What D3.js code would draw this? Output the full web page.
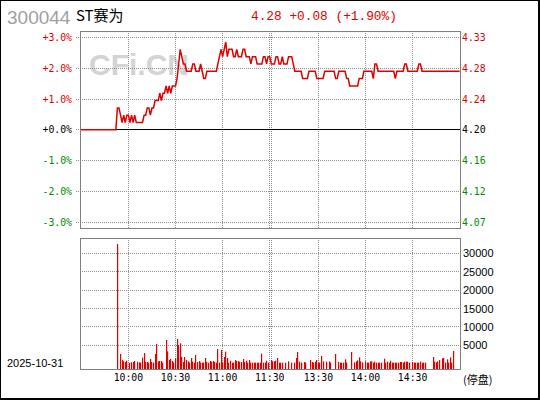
<!DOCTYPE html>
<html><head><meta charset="utf-8">
<script src="https://cdn.jsdelivr.net/npm/d3@7/dist/d3.min.js"></script>
<style>html,body{margin:0;padding:0;background:#fff;} svg{display:block;}</style>
</head><body>
<svg id="c" width="540" height="400"></svg>
<script>
// ---------- data ----------
const stockCode = "300044";
const stockName = "ST赛为";
const headerText = "4.28 +0.08 (+1.90%)";
const prevClose = 4.20;
const dateLabel = "2025-10-31";
const suspendLabel = "(停盘)";
const watermark = "CFi.CN";
const pctTicks = [3, 2, 1, 0, -1, -2, -3];
const gridMinutes = [30, 60, 90, 120, 121, 151, 181, 211];
const timeTickMinutes = [30, 60, 90, 120, 151, 181, 211];
const timeLabels = ["10:00", "10:30", "11:00", "11:30", "13:30", "14:00", "14:30"];
const volTicks = [5000, 10000, 15000, 20000, 25000, 30000];

// per-minute price (index 0 = 9:30 ... 120 = 11:30, 121 = 13:00 ... 241 = 15:00)
const prices = [
 4.20,4.20,4.20,4.20,4.20,4.20,4.20,4.20,4.20,4.20,
 4.20,4.20,4.20,4.20,4.20,4.20,4.20,4.20,4.20,4.20,
 4.20,4.20,4.20,4.23,4.23,4.22,4.21,4.22,4.21,4.22,
 4.22,4.21,4.22,4.21,4.22,4.21,4.21,4.21,4.21,4.21,
 4.22,4.22,4.23,4.23,4.22,4.23,4.23,4.24,4.24,4.24,
 4.25,4.24,4.25,4.25,4.26,4.25,4.26,4.25,4.26,4.26,
 4.26,4.27,4.29,4.31,4.30,4.29,4.29,4.28,4.28,4.28,
 4.28,4.29,4.29,4.28,4.28,4.28,4.29,4.28,4.27,4.27,
 4.28,4.28,4.28,4.28,4.28,4.28,4.28,4.29,4.30,4.31,
 4.30,4.31,4.32,4.30,4.31,4.31,4.31,4.30,4.30,4.31,
 4.30,4.30,4.30,4.31,4.31,4.30,4.30,4.30,4.29,4.30,
 4.30,4.30,4.29,4.29,4.29,4.29,4.30,4.30,4.29,4.30,
 4.30,4.29,4.29,4.29,4.30,4.30,4.29,4.29,4.30,4.29,
 4.29,4.29,4.30,4.30,4.30,4.29,4.28,4.28,4.28,4.28,
 4.28,4.27,4.27,4.27,4.27,4.28,4.28,4.28,4.28,4.28,
 4.27,4.27,4.27,4.27,4.27,4.28,4.28,4.28,4.28,4.28,
 4.28,4.28,4.27,4.27,4.28,4.28,4.28,4.28,4.28,4.27,
 4.27,4.26,4.26,4.26,4.26,4.26,4.26,4.27,4.27,4.27,
 4.28,4.28,4.28,4.28,4.28,4.28,4.27,4.29,4.29,4.28,
 4.28,4.28,4.28,4.28,4.28,4.28,4.28,4.28,4.28,4.28,
 4.27,4.28,4.28,4.28,4.28,4.28,4.29,4.29,4.28,4.28,
 4.28,4.28,4.28,4.28,4.28,4.29,4.29,4.28,4.28,4.28,
 4.28,4.28,4.28,4.28,4.28,4.28,4.28,4.28,4.28,4.28,
 4.28,4.28,4.28,4.28,4.28,4.28,4.28,4.28,4.28,4.28,
 4.28,4.28
];

// per-minute volume (0 = no trade)
const volumes = [
 0,0,0,0,0,0,0,0,0,0,
 0,0,0,0,0,0,0,0,0,0,
 0,0,0,32500,0,2640,1000,640,460,820,
 0,280,370,460,730,0,550,370,280,1640,
 2900,460,460,280,1280,460,280,2640,5350,640,
 730,730,280,0,6440,3360,1000,1280,730,280,
 1500,6710,5080,5530,1820,460,1820,1000,640,280,
 1550,550,280,2360,460,730,280,280,280,1550,
 460,280,730,550,730,460,280,4000,280,3720,
 280,1820,3270,1550,280,820,280,280,1000,730,
 730,460,460,1280,460,820,280,1000,280,280,
 280,280,280,280,280,2730,280,280,820,280,
 0,1000,640,640,820,1550,280,280,280,0,
 280,0,640,0,280,0,280,1550,3180,550,
 280,0,460,280,0,0,1000,460,280,550,
 1000,280,280,2090,640,0,550,0,640,280,
 0,0,2640,0,460,280,280,280,1190,280,
 0,0,3180,0,370,640,910,1730,640,370,
 0,640,280,280,640,640,280,550,280,280,
 280,280,0,1370,280,550,280,820,280,280,
 280,280,280,460,460,280,550,550,550,280,
 0,460,280,280,280,280,550,280,280,280,
 0,0,0,0,1820,550,370,640,1000,0,
 1460,1550,280,1190,280,1730,280,3450,0,0,
 0,0
];

// ---------- drawing ----------
const RED = "#e00000", GREEN = "#008c00", GRID = "#8f8f8f", BOX = "#808080";
const MONO = "'DejaVu Sans Mono', monospace";
const SANS = "'Liberation Sans', Arial, sans-serif";
const CJK = "'Noto Sans CJK SC', sans-serif";

const svg = d3.select("#c");
const P = {left: 80, right: 460, top: 31, bottom: 228};
const V = {left: 80, right: 460, top: 238, bottom: 369};

const x = d3.scaleLinear().domain([0, 241]).range([81.3, 459.7]);
const yP = d3.scaleLinear().domain([-3, 3]).range([222.1, 37.6]);
const yV = d3.scaleLinear().domain([0, 30000]).range([363.7, 253.3]);
const snap = v => Math.floor(v) + 0.5;
const pct = p => (p - prevClose) / prevClose * 100;

// outer border
svg.append("rect").attr("x", 0.5).attr("y", 0.5).attr("width", 538).attr("height", 398)
  .attr("fill", "none").attr("stroke", "#000");
svg.append("line").attr("x1", 539.5).attr("x2", 539.5).attr("y1", 0).attr("y2", 400).attr("stroke", "#000");
svg.append("line").attr("x1", 0).attr("x2", 540).attr("y1", 399.5).attr("y2", 399.5).attr("stroke", "#000");

// header
svg.append("text").attr("x", 7).attr("y", 24).text(stockCode)
  .attr("font-family", SANS).attr("font-size", 19).attr("fill", "#a0a0a0");
svg.append("text").attr("x", 76).attr("y", 21).text(stockName)
  .attr("font-family", CJK).attr("font-size", 15).attr("fill", "#000");
svg.append("text").attr("x", 251).attr("y", 20).text(headerText)
  .attr("font-family", "'Liberation Mono', monospace").attr("font-size", 12.8).attr("fill", RED);

// watermark
svg.append("text").attr("x", 89).attr("y", 75).text(watermark)
  .attr("font-family", SANS).attr("font-weight", "bold").attr("font-size", 30).attr("fill", "#d4d4d4");

// price panel grid
const gP = svg.append("g");
gP.selectAll("line.h").data(pctTicks.filter(d => d !== 0)).join("line")
  .attr("x1", 76).attr("x2", P.right).attr("y1", d => snap(yP(d))).attr("y2", d => snap(yP(d)))
  .attr("stroke", GRID).attr("stroke-dasharray", "1,1");
gP.append("line").attr("x1", 76).attr("x2", P.left).attr("y1", snap(yP(0))).attr("y2", snap(yP(0)))
  .attr("stroke", GRID).attr("stroke-dasharray", "1,1");
gP.selectAll("line.v").data(gridMinutes).join("line")
  .attr("x1", d => snap(x(d))).attr("x2", d => snap(x(d))).attr("y1", P.top).attr("y2", P.bottom)
  .attr("stroke", GRID).attr("stroke-dasharray", "1,1");
gP.append("line").attr("x1", P.left).attr("x2", P.right).attr("y1", snap(yP(0))).attr("y2", snap(yP(0)))
  .attr("stroke", "#000");
gP.append("rect").attr("x", P.left + 0.5).attr("y", P.top + 0.5)
  .attr("width", P.right - P.left).attr("height", P.bottom - P.top)
  .attr("fill", "none").attr("stroke", BOX);

// price axis labels
const col = d => d > 0 ? RED : (d < 0 ? GREEN : "#000");
gP.selectAll("text.l").data(pctTicks).join("text")
  .attr("x", 72).attr("y", d => yP(d) + 3.5).attr("text-anchor", "end")
  .attr("font-family", MONO).attr("font-size", 9.8).attr("fill", col)
  .text(d => (d >= 0 ? "+" : "-") + Math.abs(d).toFixed(1) + "%");
gP.selectAll("text.r").data(pctTicks).join("text")
  .attr("x", 462).attr("y", d => yP(d) + 3.5)
  .attr("font-family", MONO).attr("font-size", 9.8).attr("fill", col)
  .text(d => (prevClose * (1 + d / 100)).toFixed(2));

// price line
const line = d3.line().x((d, i) => x(i)).y(d => yP(pct(d)));
svg.append("path").datum(prices).attr("d", line)
  .attr("fill", "none").attr("stroke", RED).attr("stroke-width", 1.5);

// volume panel
const gV = svg.append("g");
gV.selectAll("line.h").data(volTicks).join("line")
  .attr("x1", V.left).attr("x2", V.right).attr("y1", d => snap(yV(d))).attr("y2", d => snap(yV(d)))
  .attr("stroke", GRID).attr("stroke-dasharray", "1,1");
gV.selectAll("line.v").data(gridMinutes).join("line")
  .attr("x1", d => snap(x(d))).attr("x2", d => snap(x(d))).attr("y1", V.top).attr("y2", V.bottom)
  .attr("stroke", GRID).attr("stroke-dasharray", "1,1");
gV.selectAll("rect.bar").data(volumes.map((v, i) => ({v, i})).filter(d => d.v > 0)).join("rect")
  .attr("x", d => Math.floor(x(d.i))).attr("width", 1.2)
  .attr("y", d => yV(d.v)).attr("height", d => V.bottom - yV(d.v))
  .attr("fill", RED);
gV.append("rect").attr("x", V.left + 0.5).attr("y", V.top + 0.5)
  .attr("width", V.right - V.left).attr("height", V.bottom - V.top)
  .attr("fill", "none").attr("stroke", BOX);
gV.selectAll("text.vl").data(volTicks).join("text")
  .attr("x", 463).attr("y", d => yV(d) + 4)
  .attr("font-family", SANS).attr("font-size", 11).attr("fill", "#000")
  .text(d => d);

// time labels
svg.selectAll("text.t").data(timeTickMinutes).join("text")
  .attr("x", d => x(d)).attr("y", 381).attr("text-anchor", "middle")
  .attr("font-family", MONO).attr("font-size", 9.8).attr("fill", "#000")
  .text((d, i) => timeLabels[i]);
svg.append("text").attr("x", 463).attr("y", 384).text(suspendLabel)
  .attr("font-family", CJK).attr("font-size", 11).attr("fill", "#000");
svg.append("text").attr("x", 7).attr("y", 367).text(dateLabel)
  .attr("font-family", SANS).attr("font-size", 11).attr("fill", "#000");
</script>
</body></html>
